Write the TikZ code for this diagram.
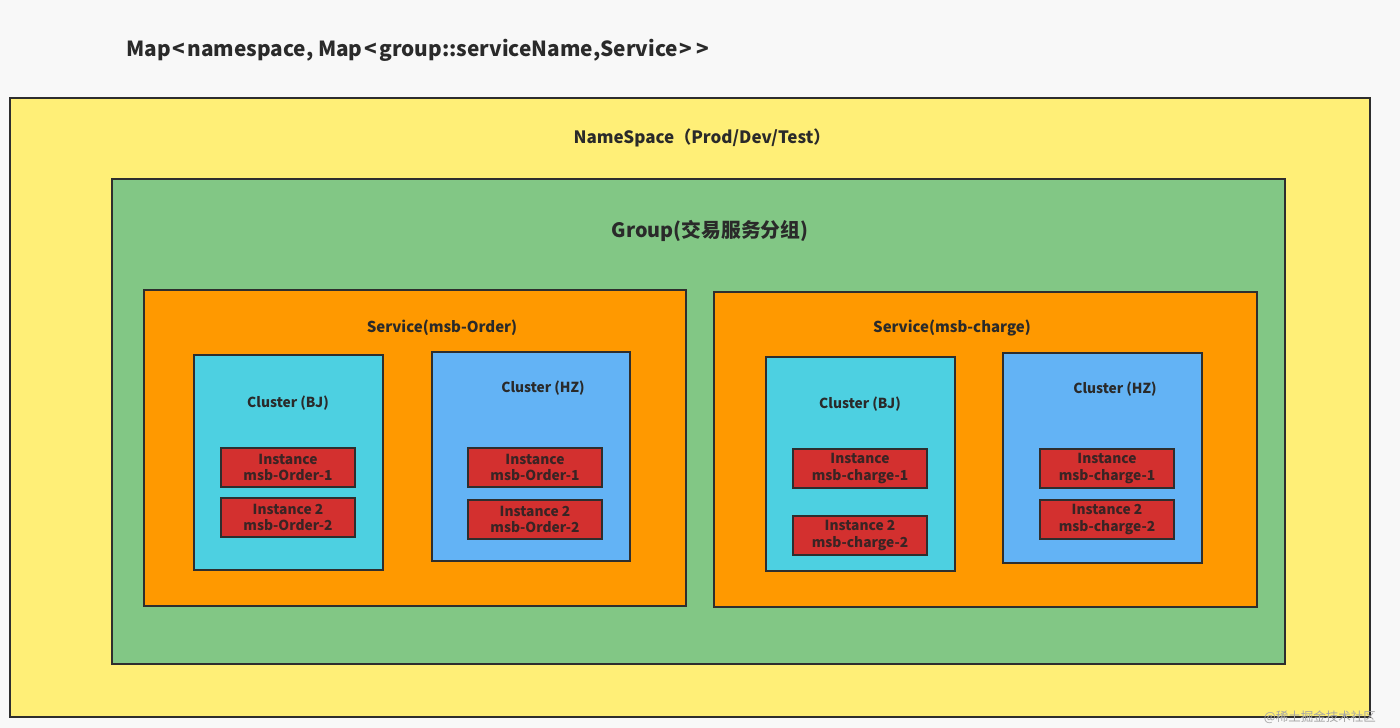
\documentclass[tikz,border=0pt]{standalone}
\usepackage{fontspec}
\setmainfont{Noto Sans CJK SC}
\definecolor{bgc}{HTML}{F8F8F8}
\definecolor{nsy}{HTML}{FFEF77}
\definecolor{grp}{HTML}{82C785}
\definecolor{svc}{HTML}{FF9900}
\definecolor{cbj}{HTML}{4DD0E1}
\definecolor{chz}{HTML}{63B3F5}
\definecolor{ins}{HTML}{D3302F}
\definecolor{edge}{HTML}{2E2E2E}
\definecolor{txt}{HTML}{2A2A2A}
\definecolor{instxt}{HTML}{3A2424}
\tikzset{
  box/.style={draw=edge, line width=1.6pt, anchor=north west, inner sep=0pt, outer sep=0pt},
  insbox/.style={draw=edge, line width=1.6pt, fill=ins, anchor=north west, inner sep=0pt, outer sep=0pt,
     minimum width=134pt, minimum height=39pt, text=instxt, align=center,
     font=\fontsize{13.8}{16.2}\selectfont\bfseries},
  lbl/.style={text=txt, font=\bfseries, inner sep=0pt},
}
\begin{document}
\begin{tikzpicture}[x=1pt,y=-1pt]
\fill[bgc] (0,0) rectangle (1400,728);
\useasboundingbox (0,0) rectangle (1400,728);
% title
\node[lbl, anchor=west, font=\fontsize{20.8}{24}\selectfont\bfseries] (title) at (126,50) {Map\kern2pt<\kern2pt namespace, Map\kern2pt<\kern2pt group::serviceName,Service\kern2pt>{}\kern4pt>};
% namespace
\node[box, fill=nsy, minimum width=1360pt, minimum height=619pt] (ns) at (10,98) {};
\node[lbl, font=\fontsize{17}{20}\selectfont\bfseries] (nsl) at (702,138) {NameSpace（Prod/Dev/Test）};
% group
\node[box, fill=grp, minimum width=1173pt, minimum height=485pt] (grp) at (112,179) {};
\node[lbl, font=\fontsize{19.8}{23}\selectfont\bfseries] (grpl) at (710,231) {Group(交易服务分组)};
% services
\node[box, fill=svc, minimum width=542pt, minimum height=316pt] (s1) at (144,290) {};
\node[lbl, font=\fontsize{15}{18}\selectfont\bfseries] (s1l) at (442,328) {Service(msb-Order)};
\node[box, fill=svc, minimum width=543pt, minimum height=315pt] (s2) at (714,292) {};
\node[lbl, font=\fontsize{15}{18}\selectfont\bfseries] (s2l) at (952,328) {Service(msb-charge)};
% clusters left
\node[box, fill=cbj, minimum width=189pt, minimum height=215pt] (c1) at (194,355) {};
\node[lbl, font=\fontsize{13.8}{16}\selectfont\bfseries] (c1l) at (288,403) {Cluster (BJ)};
\node[box, fill=chz, minimum width=198pt, minimum height=209pt] (c2) at (432,352) {};
\node[lbl, font=\fontsize{13.8}{16}\selectfont\bfseries] (c2l) at (543,388) {Cluster (HZ)};
% clusters right
\node[box, fill=cbj, minimum width=189pt, minimum height=214pt] (c3) at (766,357) {};
\node[lbl, font=\fontsize{13.8}{16}\selectfont\bfseries] (c3l) at (860,404) {Cluster (BJ)};
\node[box, fill=chz, minimum width=199pt, minimum height=210pt] (c4) at (1003,353) {};
\node[lbl, font=\fontsize{13.8}{16}\selectfont\bfseries] (c4l) at (1115,389) {Cluster (HZ)};
% instances
\node[insbox] (i1) at (221,448) {Instance\\msb-Order-1};
\node[insbox] (i2) at (221,498) {Instance 2\\msb-Order-2};
\node[insbox] (i3) at (468,448) {Instance\\msb-Order-1};
\node[insbox] (i4) at (468,500) {Instance 2\\msb-Order-2};
\node[insbox] (i5) at (793,449) {Instance\\msb-charge-1};
\node[insbox] (i6) at (793,516) {Instance 2\\msb-charge-2};
\node[insbox] (i7) at (1040,449) {Instance\\msb-charge-1};
\node[insbox] (i8) at (1040,500) {Instance 2\\msb-charge-2};
% watermark
\node[text=black!35, font=\fontsize{12.5}{14}\selectfont, inner sep=0pt, anchor=east] (wm) at (1376,717) {@稀土掘金技术社区};
\end{tikzpicture}
\end{document}
